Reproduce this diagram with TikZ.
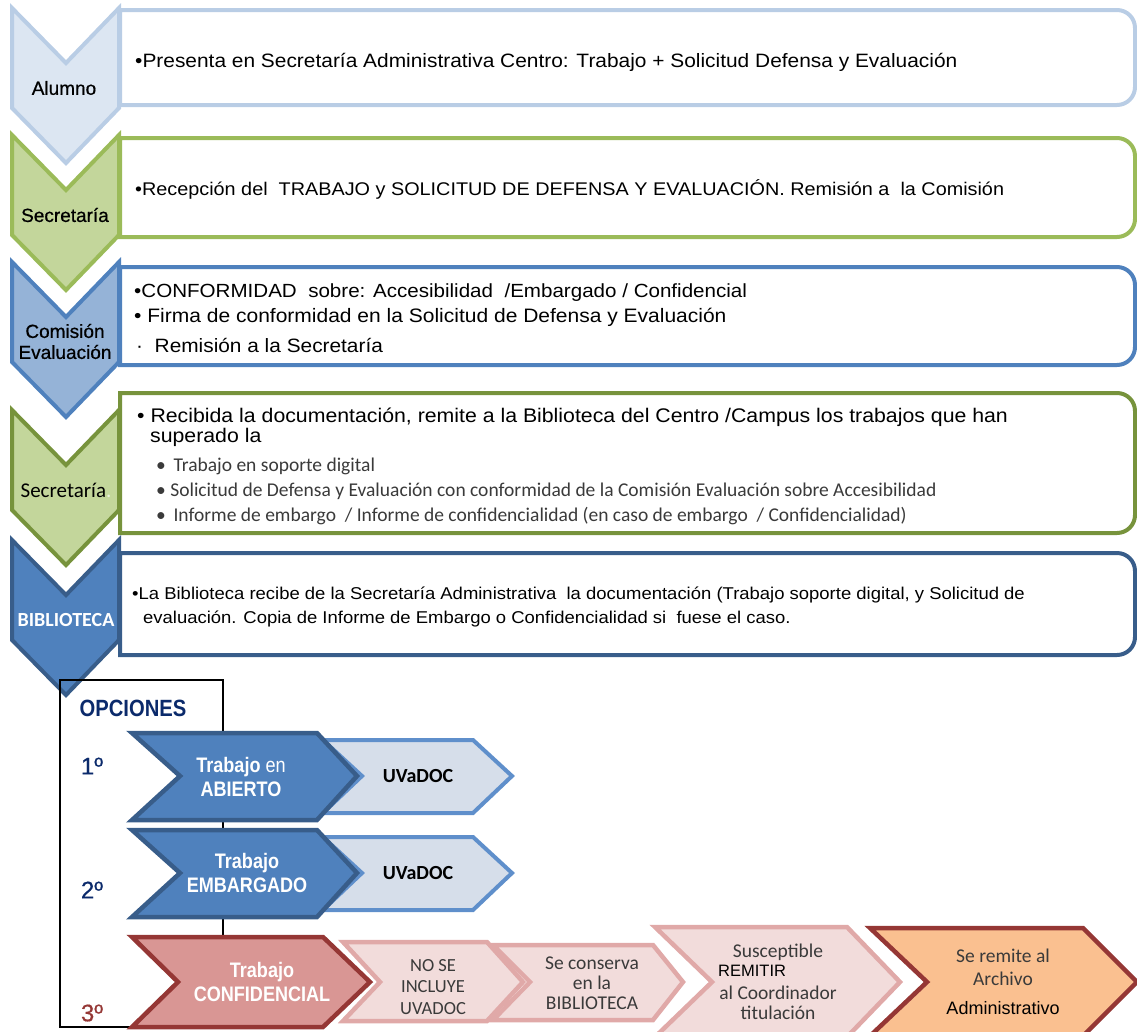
\documentclass[tikz,border=0pt]{standalone}
\usepackage{fontspec}
\setmainfont{Liberation Sans}
\newfontfamily\narrowf[FakeStretch=0.86]{Liberation Sans}
\newfontfamily\bodyf[FakeStretch=1.08]{Liberation Sans}
\newfontfamily\labf[FakeBold=0.6]{Liberation Sans}
\newfontfamily\calib{Carlito}
\definecolor{alF}{HTML}{DCE6F2}
\definecolor{alB}{HTML}{B9CDE5}
\definecolor{grF}{HTML}{C3D69B}
\definecolor{grB}{HTML}{9BBB59}
\definecolor{olB}{HTML}{77933C}
\definecolor{blF}{HTML}{95B3D7}
\definecolor{blB}{HTML}{4F81BD}
\definecolor{dbF}{HTML}{4F81BD}
\definecolor{dbB}{HTML}{385D8A}
\definecolor{navy}{HTML}{0B2A6B}
\definecolor{dred}{HTML}{953735}
\definecolor{pkF}{HTML}{D99694}
\definecolor{lpF}{HTML}{F2DCDB}
\definecolor{lpB}{HTML}{E0A9A8}
\definecolor{peach}{HTML}{FAC090}
\definecolor{uvF}{HTML}{D6DEEA}
\definecolor{uvB}{HTML}{5F8FCB}
\definecolor{gtxt}{HTML}{3A3A3A}
\definecolor{faint}{HTML}{EAF1DD}
\tikzset{
  rowbox/.style={line width=4pt, fill=white},
  chev/.style={line width=4pt, line join=miter},
  opt/.style={line width=4.5pt, line join=miter},
  body/.style={inner sep=0pt, anchor=base west},
  sub/.style={inner sep=0pt, anchor=base west, text=gtxt, font=\calib\fontsize{19.5}{22}\selectfont},
  lab/.style={inner sep=0pt, font=\labf\fontsize{19}{21}\selectfont},
  optlab/.style={inner sep=0pt, align=center, text=white, font=\narrowf\bfseries\fontsize{21}{23.5}\selectfont},
  small/.style={inner sep=0pt, align=center, text=gtxt, font=\calib\fontsize{19.5}{20}\selectfont},
}
\begin{document}
\begin{tikzpicture}[x=1pt,y=-1pt]
\useasboundingbox (0,0) rectangle (1137,1031);
\clip (0,0) rectangle (1137,1031);
% ---- row boxes
\newcommand\rbox[3]{\draw[rowbox,draw=#1] (120,#2) -- (1000,#2) [rounded corners=18pt] -- (1135,#2) -- (1135,#3) -- (1000,#3) [sharp corners] -- (120,#3) -- cycle;}
\rbox{alB}{10}{105}
\rbox{grB}{138}{237}
\rbox{blB}{267}{365}
\rbox{olB}{393}{533}
\rbox{dbB}{553}{655}
% ---- down chevrons
\newcommand\dchev[3]{\draw[chev,draw=#1,fill=#2] (12,#3) -- (66,#3+55) -- (119,#3) -- (119,#3+100) -- (66,#3+155) -- (12,#3+100) -- cycle;}
\dchev{alB}{alF}{8}
\dchev{grB}{grF}{135}
\dchev{blB}{blF}{262}
\dchev{olB}{grF}{410}
\dchev{dbB}{dbF}{540}
% chevron labels
\node[lab] (alumno) at (64,88) {Alumno};
\node[lab] (secre1) at (65,215) {Secretaría};
\node[lab] (comision) at (65,331) {Comisión};
\node[lab] (evalua) at (65,352) {Evaluación};
\node[inner sep=0pt, font=\calib\fontsize{21}{23}\selectfont] (secre2) at (66,490) {Secretaría\textcolor{faint}{.}};
\node[inner sep=0pt, text=white, font=\calib\bfseries\fontsize{20}{22}\selectfont] (biblio) at (66,620) {BIBLIOTECA};
% ---- row texts
\node[body, font=\bodyf\fontsize{19.35}{22}\selectfont] (t1) at (135,67) {\textbullet Presenta en Secretaría Administrativa Centro: Trabajo + Solicitud Defensa y Evaluación};
\node[body, font=\bodyf\fontsize{18.35}{22}\selectfont] (t2) at (135,195) {\textbullet Recepción del\ \ TRABAJO y SOLICITUD DE DEFENSA Y EVALUACIÓN. Remisión a\ \ la Comisión};
\node[body, font=\bodyf\fontsize{19.05}{22}\selectfont] (t3a) at (134,297) {\textbullet CONFORMIDAD\ \ sobre: Accesibilidad\ \ /Embargado / Confidencial};
\node[body, font=\bodyf\fontsize{19.45}{22}\selectfont] (t3b) at (134,322) {\textbullet\ Firma de conformidad en la Solicitud de Defensa y Evaluación};
\node[body, font=\bodyf\fontsize{19.3}{22}\selectfont] (t3c) at (136,352) {\textperiodcentered\ \ Remisión a la Secretaría};
\node[body, font=\bodyf\fontsize{19.7}{22}\selectfont] (t4a) at (137,422) {\textbullet\ Recibida la documentación, remite a la Biblioteca del Centro /Campus los trabajos que han};
\node[body, font=\bodyf\fontsize{19.7}{22}\selectfont] (t4b) at (150,442) {superado la};
\node[sub] (t4c) at (156,471) {\textbullet\ \,Trabajo en soporte digital};
\node[sub] (t4d) at (156,496) {\textbullet\ Solicitud de Defensa y Evaluación con conformidad de la Comisión Evaluación sobre Accesibilidad};
\node[sub] (t4e) at (156,521) {\textbullet\ \,Informe de embargo\ \ / Informe de confidencialidad (en caso de embargo\ \ / Confidencialidad)};
\node[body, font=\bodyf\fontsize{17.1}{20}\selectfont] (t5a) at (132,599) {\textbullet La Biblioteca recibe de la Secretaría Administrativa\ \ la documentación (Trabajo soporte digital, y Solicitud de};
\node[body, font=\bodyf\fontsize{17.1}{20}\selectfont] (t5b) at (143,623) {evaluación. Copia de Informe de Embargo o Confidencialidad si\ \ fuese el caso.};
% ---- opciones frame
\draw[line width=1.2pt] (60,680) rectangle (223,1027);
\node[inner sep=0pt, text=navy, font=\narrowf\bfseries\fontsize{23.5}{26}\selectfont] (opciones) at (133,708) {OPCIONES};
\node[inner sep=0pt, text=navy, font=\labf\fontsize{24}{26}\selectfont] (n1) at (92,766) {1º};
\node[inner sep=0pt, text=navy, font=\labf\fontsize{24}{26}\selectfont] (n2) at (92,890) {2º};
\node[inner sep=0pt, text=dred, font=\labf\fontsize{24}{26}\selectfont] (n3) at (92,1013) {3º};
% ---- option chevrons
\newcommand\rchev[8]{\draw[#1] (#2,#4) -- (#3,#4) -- (#6,#7) -- (#3,#5) -- (#2,#5) -- (#8,#7) -- cycle;}
% row 1
\rchev{opt,draw=uvB,fill=uvF,line width=4pt}{323}{473}{740}{813}{512}{776}{362}
\rchev{opt,draw=dbB,fill=dbF}{132}{317}{733}{820}{357}{776}{180}
% row 2
\rchev{opt,draw=uvB,fill=uvF,line width=4pt}{323}{473}{837}{910}{512}{873}{362}
\rchev{opt,draw=dbB,fill=dbF}{132}{317}{830}{917}{357}{873}{180}
% row 3
\rchev{opt,draw=dred,fill=peach}{870}{1083}{928}{1036}{1137}{982}{927}
\rchev{opt,draw=lpB,fill=lpF}{655}{847}{927}{1037}{900}{982}{712}
\rchev{opt,draw=lpB,fill=lpF}{493}{653}{945}{1020}{683}{982}{530}
\rchev{opt,draw=lpB,fill=lpF}{343}{487}{942}{1021}{523}{982}{380}
\rchev{opt,draw=dred,fill=pkF}{132}{323}{937}{1027}{370}{982}{178}
% option labels
\node[optlab] (abierto) at (241,777) {Trabajo {\mdseries en}\\ABIERTO};
\node[optlab] (embarg) at (247,873) {Trabajo\\EMBARGADO};
\node[optlab] (confid) at (262,982) {Trabajo\\CONFIDENCIAL};
\node[inner sep=0pt, font=\calib\bfseries\fontsize{20}{22}\selectfont] (uv1) at (418,776) {UVaDOC};
\node[inner sep=0pt, font=\calib\bfseries\fontsize{20}{22}\selectfont] (uv2) at (418,873) {UVaDOC};
\node[small, font=\calib\fontsize{18.5}{21.5}\selectfont] (nose) at (433,987) {NO SE\\INCLUYE\\UVADOC};
\node[small] (conserva) at (592,983) {Se conserva\\en la\\BIBLIOTECA};
\node[small] (suscep) at (778,952) {Susceptible};
\node[inner sep=0pt, anchor=west, font=\fontsize{16.5}{18}\selectfont] (remitir) at (718,971) {REMITIR};
\node[small] (coord) at (778,1003) {al Coordinador\\titulación};
\node[small, font=\calib\fontsize{19.5}{23}\selectfont] (remite) at (1003,967) {Se remite al\\Archivo};
\node[inner sep=0pt, font=\fontsize{18}{20}\selectfont] (admin) at (1003,1008) {Administrativo};
\end{tikzpicture}
\end{document}
